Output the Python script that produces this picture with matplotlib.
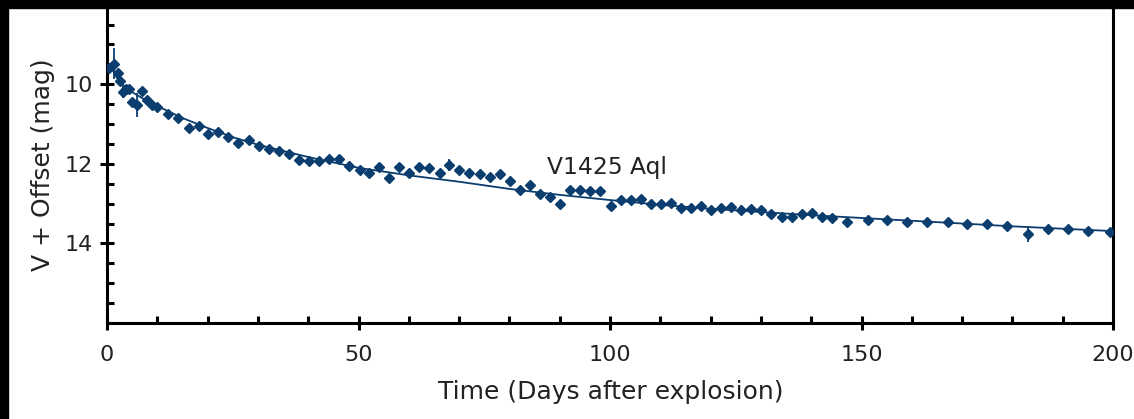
import numpy as np
import matplotlib
matplotlib.use('Agg')
import matplotlib.pyplot as plt
from matplotlib.ticker import MultipleLocator, FixedLocator
from matplotlib.patches import Rectangle

# observed V magnitudes (days after explosion)
days = [0.3, 1.4, 2.1, 2.5, 3.1, 3.8, 4.4, 4.9, 5.9, 6.9, 8.0, 8.9, 10.0,
        12.2, 14.2, 16.2, 18.2, 20.1, 22.1, 24.1, 26.1, 28.2, 30.2, 32.2,
        34.2, 36.2, 38.2, 40.2, 42.1, 44.1, 46.1, 48.2, 50.2, 52.1, 54.1,
        56.1, 58.1, 60.1, 62.1, 64.1, 66.1, 68.0, 70.0, 72.0, 74.2, 76.1,
        78.1, 80.1, 82.1, 84.1, 86.1, 88.1, 90.1, 92.0, 94.0, 96.0, 98.0,
        100.1, 102.1, 104.1, 106.1, 108.1, 110.1, 112.1, 114.1, 116.1,
        118.1, 120.0, 122.0, 124.0, 126.0, 128.0, 130.1, 132.1, 134.1,
        136.1, 138.1, 140.1, 142.1, 144.1, 147.2, 151.2, 155.1, 159.1,
        163.0, 167.1, 171.0, 175.0, 179.0, 183.0, 187.0, 191.0, 195.0, 199.3]
mag = [9.60, 9.48, 9.71, 9.92, 10.19, 10.13, 10.11, 10.45, 10.53, 10.17,
       10.39, 10.53, 10.57, 10.75, 10.84, 11.09, 11.06, 11.24, 11.20, 11.33,
       11.48, 11.41, 11.54, 11.63, 11.68, 11.76, 11.90, 11.94, 11.93, 11.87,
       11.87, 12.06, 12.15, 12.23, 12.08, 12.35, 12.08, 12.23, 12.08, 12.10,
       12.23, 12.02, 12.15, 12.22, 12.26, 12.33, 12.26, 12.44, 12.67, 12.54,
       12.77, 12.84, 13.02, 12.65, 12.65, 12.68, 12.68, 13.07, 12.92, 12.92,
       12.88, 13.02, 13.02, 12.99, 13.10, 13.10, 13.07, 13.17, 13.12, 13.09,
       13.15, 13.13, 13.17, 13.27, 13.34, 13.34, 13.27, 13.24, 13.34, 13.36,
       13.45, 13.40, 13.40, 13.47, 13.47, 13.47, 13.52, 13.52, 13.56, 13.77,
       13.63, 13.63, 13.70, 13.72]
mag_err = [0.0, 0.4, 0.1, 0.1, 0.15, 0.1, 0.0, 0.1, 0.3, 0.0, 0.05, 0.0, 0.0,
           0.0, 0.0, 0.0, 0.0, 0.0, 0.0, 0.0, 0.0, 0.0, 0.0, 0.0, 0.0, 0.0,
           0.0, 0.0, 0.0, 0.0, 0.0, 0.0, 0.0, 0.0, 0.0, 0.0, 0.0, 0.0, 0.0,
           0.0, 0.0, 0.15, 0.0, 0.0, 0.0, 0.0, 0.0, 0.0, 0.0, 0.0, 0.0, 0.0,
           0.0, 0.0, 0.0, 0.0, 0.0, 0.0, 0.0, 0.0, 0.0, 0.0, 0.0, 0.0, 0.0,
           0.0, 0.0, 0.0, 0.0, 0.0, 0.12, 0.0, 0.0, 0.0, 0.0, 0.0, 0.0, 0.0,
           0.0, 0.0, 0.0, 0.0, 0.0, 0.0, 0.0, 0.0, 0.0, 0.0, 0.0, 0.2, 0.0,
           0.0, 0.0, 0.0]

# fitted decline curve
fit_days = [0.5, 1, 2, 3, 5, 7, 10, 15, 20, 25, 30, 40, 50, 60, 70, 80, 90,
            100, 110, 120, 130, 140, 150, 160, 170, 180, 190, 200]
fit_mag = [9.50, 9.62, 9.85, 10.0, 10.2, 10.35, 10.55, 10.85, 11.1, 11.33,
           11.52, 11.83, 12.1, 12.29, 12.45, 12.63, 12.78, 12.91, 13.03,
           13.13, 13.21, 13.29, 13.36, 13.43, 13.5, 13.57, 13.63, 13.69]

navy = '#0b3d6f'
txt = '#222222'

fig = plt.figure(figsize=(11.34, 4.19), dpi=100)
ax = fig.add_axes([0.0944, 0.229, 0.8871, 0.760])

ax.plot(fit_days, fit_mag, color=navy, lw=1.3, zorder=2)
ax.errorbar(days, mag, yerr=mag_err, fmt='D', color=navy, ms=5.2,
            ecolor=navy, elinewidth=1.3, capsize=0, zorder=3)

ax.set_xlim(0, 200)
ax.set_ylim(16, 8)

ax.spines['top'].set_visible(False)
for s in ['left', 'bottom', 'right']:
    ax.spines[s].set_linewidth(2.2)
    ax.spines[s].set_color('black')

ax.xaxis.set_major_locator(MultipleLocator(50))
ax.xaxis.set_minor_locator(MultipleLocator(10))
ax.yaxis.set_major_locator(FixedLocator([10, 12, 14]))
ax.yaxis.set_minor_locator(MultipleLocator(0.5))

ax.tick_params(which='major', direction='inout', length=10, width=2.2,
               labelsize=16, labelcolor=txt)
ax.tick_params(which='minor', direction='in', length=5, width=2.2)
ax.tick_params(axis='x', which='major', pad=11)
ax.tick_params(axis='y', which='major', pad=5)

ax.set_xlabel('Time (Days after explosion)', fontsize=18, color=txt)
ax.set_ylabel('V + Offset (mag)', fontsize=18, color=txt)
ax.xaxis.set_label_coords(0.501, -0.178)
ax.yaxis.set_label_coords(-0.052, 0.496)

ax.text(87.5, 12.1, 'V1425 Aql', fontsize=16.8, color=txt, ha='left', va='center')

# dark frame strips along the top and left edges of the picture
fig.patches.append(Rectangle((0, 1 - 8 / 419), 1, 8 / 419, transform=fig.transFigure,
                             color='black', zorder=10))
fig.patches.append(Rectangle((0, 0), 8 / 1134, 1, transform=fig.transFigure,
                             color='black', zorder=10))

fig.savefig('out.png', dpi=100)
